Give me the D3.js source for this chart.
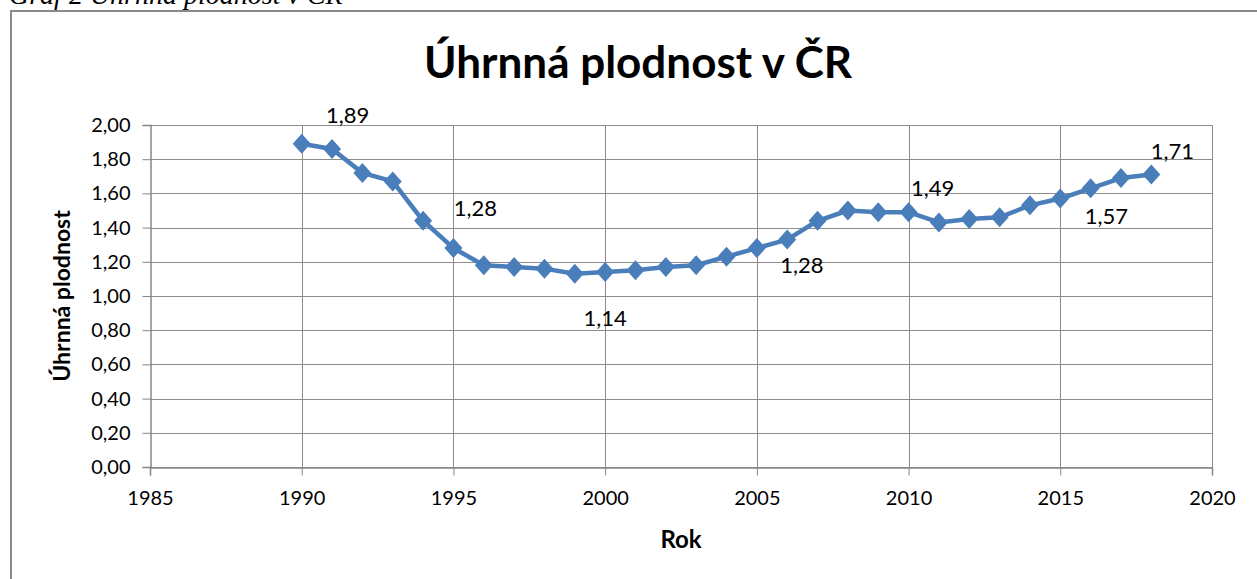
<!DOCTYPE html>
<html><head><meta charset="utf-8">
<script src="https://cdn.jsdelivr.net/npm/d3@7"></script>
<style>
html,body{margin:0;padding:0;background:#fff;overflow:hidden}
svg{display:block}
</style></head>
<body>
<svg id="c" width="1257" height="579"></svg>
<script>
const years = [1990,1991,1992,1993,1994,1995,1996,1997,1998,1999,2000,2001,2002,2003,2004,2005,2006,2007,2008,2009,2010,2011,2012,2013,2014,2015,2016,2017,2018];
const tfr = [1.89,1.86,1.72,1.67,1.44,1.28,1.18,1.17,1.16,1.13,1.14,1.15,1.17,1.18,1.23,1.28,1.33,1.44,1.50,1.49,1.49,1.43,1.45,1.46,1.53,1.57,1.63,1.69,1.71];
const xTicks = [1985,1990,1995,2000,2005,2010,2015,2020];
const yTicks = [0,0.2,0.4,0.6,0.8,1.0,1.2,1.4,1.6,1.8,2.0];
const labelYears = [1990,1995,2000,2005,2010,2015,2018];
const labelDx = [46,22,0,45,24,46,21];
const labelDy = [-29,-40,46,17,-24,18,-23];
const titleText = "Úhrnná plodnost v ČR";
const captionText = "Graf 2 Úhrnná plodnost v ČR";
const xTitle = "Rok", yTitle = "Úhrnná plodnost";

const svg = d3.select("#c");
const font = "Lato, 'Open Sans', sans-serif";
const fmt = v => d3.format(".2f")(v).replace(".", ",");

// caption (cut at top)
svg.append("text").attr("x",9).attr("y",4).attr("font-family","'Liberation Serif', serif")
  .attr("font-style","italic").attr("font-size",28).attr("fill","#000").text(captionText);
// chart frame
svg.append("rect").attr("x",11).attr("y",11).attr("width",1270).attr("height",600)
  .attr("fill","none").attr("stroke","#8a8a8a").attr("stroke-width",2);

const x = d3.scaleLinear().domain([1985,2020]).range([150,1212]);
const y = d3.scaleLinear().domain([0,2]).range([467,125]);

// grid
const g = svg.append("g");
g.selectAll(".hg").data(yTicks).join("line")
  .attr("x1",150).attr("x2",1212).attr("y1",d=>Math.round(y(d))+0.5).attr("y2",d=>Math.round(y(d))+0.5)
  .attr("stroke","#8c8c8c").attr("stroke-width",1);
g.selectAll(".vg").data(xTicks.slice(1)).join("line")
  .attr("y1",125).attr("y2",467).attr("x1",d=>Math.round(x(d))+0.5).attr("x2",d=>Math.round(x(d))+0.5)
  .attr("stroke","#8c8c8c").attr("stroke-width",1);

// axes
const yAxis = d3.axisLeft(y).tickValues(yTicks).tickSize(8).tickPadding(12).tickFormat(fmt);
const ya = svg.append("g").attr("transform","translate(150.5,0)").call(yAxis);
const xAxis = d3.axisBottom(x).tickValues(xTicks).tickSize(8).tickPadding(14).tickFormat(d3.format("d"));
const xa = svg.append("g").attr("transform","translate(0,467.5)").call(xAxis);
[ya,xa].forEach(a=>{
  a.select(".domain").attr("stroke","#868686").attr("stroke-width",1.5);
  a.selectAll(".tick line").attr("stroke","#868686");
  a.selectAll("text").attr("font-family",font).attr("font-size",20).attr("fill","#000");
});
xa.selectAll("text").attr("dy","0.75em");

// axis titles
svg.append("text").attr("x",681).attr("y",548).attr("text-anchor","middle")
  .attr("font-family",font).attr("font-weight","bold").attr("font-size",24).text(xTitle);
svg.append("text").attr("transform","translate(70,296) rotate(-90)").attr("text-anchor","middle")
  .attr("font-family",font).attr("font-weight","bold").attr("font-size",23).text(yTitle);

// title
svg.append("text").attr("x",638).attr("y",78).attr("text-anchor","middle")
  .attr("font-family",font).attr("font-weight","bold").attr("font-size",44).text(titleText);

// line
const data = years.map((yr,i)=>({yr,v:tfr[i]}));
svg.append("path").datum(data)
  .attr("d", d3.line().x(d=>x(d.yr)).y(d=>y(d.v)))
  .attr("fill","none").attr("stroke","#4a7ebb").attr("stroke-width",4.5).attr("stroke-linejoin","round");
svg.selectAll(".m").data(data).join("path")
  .attr("transform",d=>`translate(${x(d.yr)},${y(d.v)})`)
  .attr("d","M0,-10L9,0L0,10L-9,0Z").attr("fill","#4a7ebb");

// data labels
svg.selectAll(".lbl").data(labelYears).join("text")
  .attr("x",(d,i)=>x(d)+labelDx[i]).attr("y",(d,i)=>y(tfr[years.indexOf(d)])+labelDy[i])
  .attr("text-anchor","middle").attr("dy","0.35em")
  .attr("font-family",font).attr("font-size",22).attr("fill","#000")
  .text(d=>fmt(tfr[years.indexOf(d)]));
</script>
</body></html>
